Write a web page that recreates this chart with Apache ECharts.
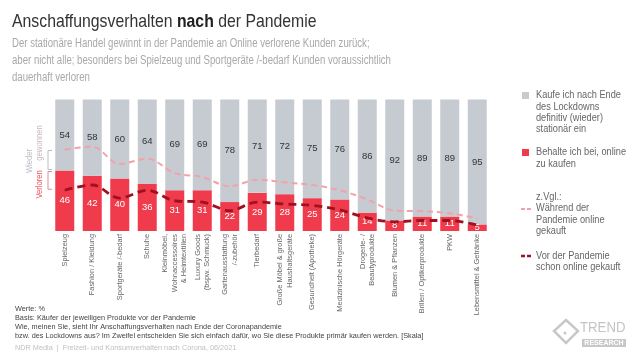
<!DOCTYPE html>
<html><head><meta charset="utf-8">
<script src="https://cdn.jsdelivr.net/npm/echarts@6/dist/echarts.min.js"></script>
<style>html,body{margin:0;padding:0;background:#fff}#c{width:640px;height:358px}</style>
</head><body><div id="c"></div>
<script>
const categories = ["Spielzeug","Fashion / Kleidung","Sportgeräte /-bedarf","Schuhe","Kleinmöbel,\nWohnaccessoires\n& Heimtextilien","Luxury Goods\n(bspw. Schmuck)","Gartenausstattung\n/-zubehör","Tierbedarf","Große Möbel & große\nHaushaltsgeräte","Gesundheit (Apotheke)","Medizinische Hörgeräte","Drogerie- /\nBeautyprodukte","Blumen & Pflanzen","Brillen / Optikerprodukte","PKW","Lebensmittel & Getränke"];
const stationaer = [54,58,60,64,69,69,78,71,72,75,76,86,92,89,89,95];
const online = [46,42,40,36,31,31,22,29,28,25,24,14,8,11,11,5];
const waehrend = [62,64,51,55,44,41,34,39,37,35,31,24,15.5,15,13.5,9.5];
const vorher = [31,35,25,31,23,22,15.5,22,20.5,19.5,16,10,7,8,8,4.5];

const NF = "'Liberation Sans',Arial,sans-serif";
const cGray = '#c5cbd1', cRed = '#f03b4c', cPink = '#f4a2a9', cDark = '#a0111f';

const chart = echarts.init(document.getElementById('c'), null, {renderer:'canvas'});
chart.setOption({
  animation:false,
  textStyle:{fontFamily:NF},
  grid:{left:51, width:440, top:99.5, bottom:127, containLabel:false},
  xAxis:{type:'category', data:categories, axisLine:{show:false}, axisTick:{show:false},
    axisLabel:{rotate:90, interval:0, fontSize:7.4, color:'#666', margin:3, lineHeight:9.5, fontFamily:NF}},
  yAxis:{type:'value', min:0, max:100, show:false, splitLine:{show:false}},
  series:[
    {name:'Behalte ich bei, online zu kaufen', type:'bar', stack:'s', data:online, barWidth:19,
      itemStyle:{color:cRed}, label:{show:true, position:'inside', color:'#fff', fontSize:9.5, fontFamily:NF}},
    {name:'Kaufe ich nach Ende des Lockdowns definitiv (wieder) stationär ein', type:'bar', stack:'s', data:stationaer, barWidth:19,
      itemStyle:{color:cGray}, label:{show:true, position:'inside', color:'#333', fontSize:9.5, fontFamily:NF}},
    {name:'Während der Pandemie online gekauft', type:'line', data:waehrend, smooth:0.35, symbol:'none', z:5,
      lineStyle:{color:cPink, width:2, type:[6,4]}},
    {name:'Vor der Pandemie schon online gekauft', type:'line', data:vorher, smooth:0.35, symbol:'none', z:6,
      lineStyle:{color:cDark, width:2.8, type:[8,5]}}
  ]
});

function yPix(v){ return chart.convertToPixel({yAxisIndex:0}, v); }
const y62 = yPix(waehrend[0]), y46 = yPix(online[0]), y31 = yPix(vorher[0]);
const T = (x,y,t,o) => Object.assign({type:'text', x:x, y:y, scaleX:(o&&o.sx)||1, rotation:(o&&o.rot)||0,
  style:{text:t, fill:(o&&o.c)||'#666', fontSize:(o&&o.fs)||10, fontFamily:NF, fontWeight:(o&&o.fw)||'normal',
    lineHeight:(o&&o.lh)||11.3, align:(o&&o.al)||'left', verticalAlign:(o&&o.va)||'top', rich:(o&&o.rich)||undefined}});
const g = [
  // title + subtitle
  T(12, 12, '{a|Anschaffungsverhalten }{b|nach}{a| der Pandemie}', {sx:0.85, fs:18.6, c:'#333', lh:20,
     rich:{a:{fontSize:18.6, fill:'#333', fontFamily:NF}, b:{fontSize:18.6, fill:'#222', fontWeight:'bold', fontFamily:NF}}}),
  T(12, 35, 'Der stationäre Handel gewinnt in der Pandemie an Online verlorene Kunden zurück;\naber nicht alle; besonders bei Spielzeug und Sportgeräte /-bedarf Kunden voraussichtlich\ndauerhaft verloren', {sx:0.8, fs:12, c:'#a8a8a8', lh:17}),
  // brackets
  {type:'polyline', shape:{points:[[52,y62+1],[48,y62+1],[48,y46-1],[52,y46-1]]}, style:{stroke:'#b8bec4', lineWidth:1, fill:null}},
  {type:'polyline', shape:{points:[[52,y46+1],[48,y46+1],[48,y31-1],[52,y31-1]]}, style:{stroke:'#e58a92', lineWidth:1, fill:null}},
  T(30, (y62+y46)/2+1, 'Wieder', {rot:Math.PI/2, fs:9, sx:0.85, c:'#b8bec4', al:'center', va:'middle'}),
  T(40, (y62+y46)/2-17, 'gewonnen', {rot:Math.PI/2, fs:9, sx:0.85, c:'#c4b9bb', al:'center', va:'middle'}),
  T(40, (y46+y31)/2+4, 'Verloren', {rot:Math.PI/2, fs:9, sx:0.85, c:'#e8505d', al:'center', va:'middle'}),
  // legend
  {type:'rect', shape:{x:522, y:92, width:7, height:7}, style:{fill:cGray}},
  T(536, 90, 'Kaufe ich nach Ende\ndes Lockdowns\ndefinitiv (wieder)\nstationär ein', {sx:0.92}),
  {type:'rect', shape:{x:522, y:149, width:7, height:7}, style:{fill:cRed}},
  T(536, 147, 'Behalte ich bei, online\nzu kaufen', {sx:0.92}),
  T(536, 191.5, 'z.Vgl.:\nWährend der\nPandemie online\ngekauft', {sx:0.92}),
  {type:'line', shape:{x1:521, y1:209, x2:532, y2:209}, style:{stroke:cPink, lineWidth:2, lineDash:[4,2]}},
  {type:'line', shape:{x1:521, y1:256, x2:532, y2:256}, style:{stroke:cDark, lineWidth:2.5, lineDash:[4,2]}},
  T(536, 250.5, 'Vor der Pandemie\nschon online gekauft', {sx:0.92}),
  // footnotes
  T(15, 304, 'Werte: %\nBasis: Käufer der jeweiligen Produkte vor der Pandemie\nWie, meinen Sie, sieht Ihr Anschaffungsverhalten nach Ende der Coronapandemie\nbzw. des Lockdowns aus? Im Zweifel entscheiden Sie sich einfach dafür, wo Sie diese Produkte primär kaufen werden. [Skala]', {fs:7.3, lh:9, c:'#444'}),
  T(15, 342, 'NDR Media  |  Freizeit- und Konsumverhalten nach Corona, 06/2021', {fs:7.3, c:'#c0c0c0'}),
  // logo
  {type:'polygon', shape:{points:[[566,320],[578,331],[566,343],[554,331]]}, style:{fill:null, stroke:'#c8c8c8', lineWidth:2.5}},
  {type:'circle', shape:{cx:565, cy:333, r:1.5}, style:{fill:'#c8c8c8'}},
  T(580, 322, 'TREND', {fs:15, sx:0.88, c:'#c4c4c4'}),
  {type:'rect', shape:{x:582, y:339, width:44, height:8}, style:{fill:'#c8c8c8'}},
  T(604, 343.5, 'RESEARCH', {fs:7, fw:'bold', c:'#fff', al:'center', va:'middle'})
];
chart.setOption({graphic:g});
</script></body></html>
